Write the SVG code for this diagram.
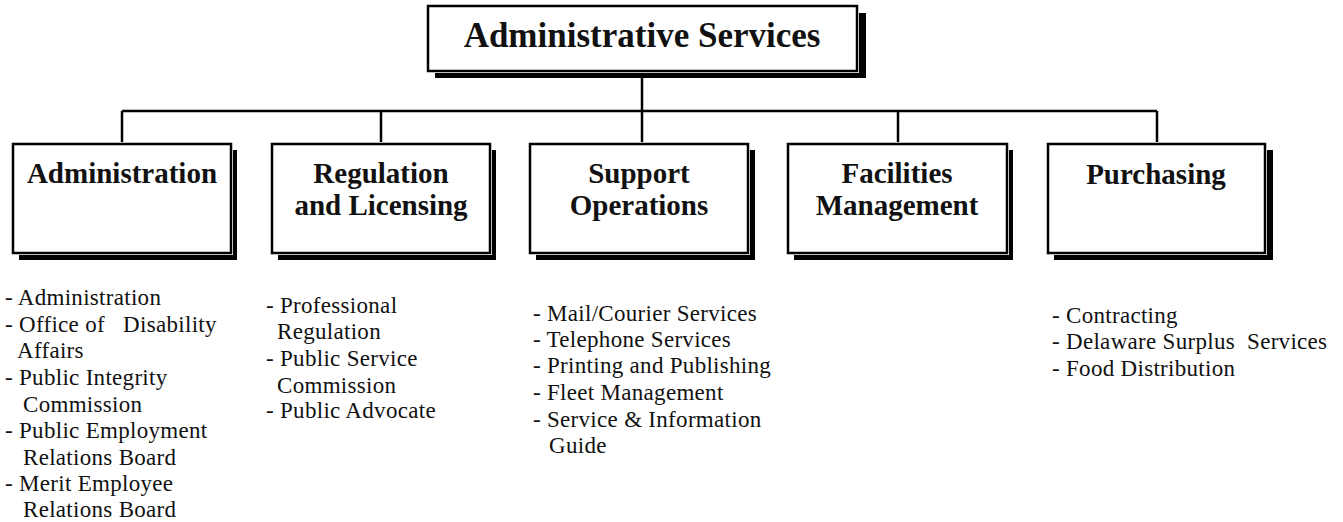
<svg xmlns="http://www.w3.org/2000/svg" width="1343" height="522" viewBox="0 0 1343 522">
  <style>
    .shadow { fill: #000; }
    .gap { fill: #fff; }
    .box { fill: #fff; stroke: #000; stroke-width: 2.5; }
    .head { font-family: "Liberation Serif", "Times New Roman", serif; font-weight: bold; font-size: 29px; fill: #111; text-anchor: middle; }
    .title { font-size: 35px; }
    .list { font-family: "Liberation Serif", "Times New Roman", serif; font-size: 23px; letter-spacing: 0.3px; fill: #111; white-space: pre; }
    .wire { stroke: #000; stroke-width: 2.5; fill: none; }
  </style>

  <!-- connectors -->
  <g id="connectors">
    <line class="wire" x1="642" y1="71" x2="642" y2="111"/>
    <line class="wire" x1="122" y1="111" x2="1157" y2="111"/>
    <line class="wire" x1="122" y1="111" x2="122" y2="144"/>
    <line class="wire" x1="381" y1="111" x2="381" y2="144"/>
    <line class="wire" x1="642" y1="111" x2="642" y2="144"/>
    <line class="wire" x1="898" y1="111" x2="898" y2="144"/>
    <line class="wire" x1="1157" y1="111" x2="1157" y2="144"/>
  </g>

  <!-- top node -->
  <g id="administrative-services">
    <rect class="shadow" x="435" y="13" width="431" height="65"/>
    <rect class="gap" x="426" y="4" width="433" height="69"/>
    <rect class="box" x="428" y="6" width="429" height="65"/>
    <text class="head title" x="642" y="47">Administrative Services</text>
  </g>

  <!-- division nodes -->
  <g id="administration">
    <rect class="shadow" x="19" y="150" width="218" height="110"/>
    <rect class="gap" x="11" y="142" width="222" height="113"/>
    <rect class="box" x="13" y="144" width="218" height="109"/>
    <text class="head" x="122" y="183">Administration</text>
  </g>

  <g id="regulation-licensing">
    <rect class="shadow" x="278" y="150" width="218" height="110"/>
    <rect class="gap" x="270" y="142" width="222" height="113"/>
    <rect class="box" x="272" y="144" width="218" height="109"/>
    <text class="head" x="381" y="183">Regulation</text>
    <text class="head" x="381" y="215">and Licensing</text>
  </g>

  <g id="support-operations">
    <rect class="shadow" x="536" y="150" width="219" height="110"/>
    <rect class="gap" x="528" y="142" width="222" height="113"/>
    <rect class="box" x="530" y="144" width="218" height="109"/>
    <text class="head" x="639" y="183">Support</text>
    <text class="head" x="639" y="215">Operations</text>
  </g>

  <g id="facilities-management">
    <rect class="shadow" x="794" y="150" width="219" height="110"/>
    <rect class="gap" x="786" y="142" width="223" height="113"/>
    <rect class="box" x="788" y="144" width="219" height="109"/>
    <text class="head" x="897" y="183">Facilities</text>
    <text class="head" x="897" y="215">Management</text>
  </g>

  <g id="purchasing">
    <rect class="shadow" x="1054" y="150" width="219" height="110"/>
    <rect class="gap" x="1046" y="142" width="221" height="113"/>
    <rect class="box" x="1048" y="144" width="217" height="109"/>
    <text class="head" x="1156" y="184">Purchasing</text>
  </g>

  <!-- unit lists -->
  <g id="administration-units">
    <text class="list" x="5" y="305">- Administration</text>
    <text class="list" x="5" y="332">- Office of   Disability</text>
    <text class="list" x="17" y="358">Affairs</text>
    <text class="list" x="5" y="385">- Public Integrity</text>
    <text class="list" x="23" y="412">Commission</text>
    <text class="list" x="5" y="438">- Public Employment</text>
    <text class="list" x="23" y="465">Relations Board</text>
    <text class="list" x="5" y="491">- Merit Employee</text>
    <text class="list" x="23" y="517">Relations Board</text>
  </g>

  <g id="regulation-units">
    <text class="list" x="266" y="313">- Professional</text>
    <text class="list" x="277" y="339">Regulation</text>
    <text class="list" x="266" y="366">- Public Service</text>
    <text class="list" x="277" y="393">Commission</text>
    <text class="list" x="266" y="418">- Public Advocate</text>
  </g>

  <g id="support-units">
    <text class="list" x="533" y="321">- Mail/Courier Services</text>
    <text class="list" x="533" y="347">- Telephone Services</text>
    <text class="list" x="533" y="373">- Printing and Publishing</text>
    <text class="list" x="533" y="400">- Fleet Management</text>
    <text class="list" x="533" y="427">- Service &amp; Information</text>
    <text class="list" x="549" y="453">Guide</text>
  </g>

  <g id="purchasing-units">
    <text class="list" x="1052" y="323">- Contracting</text>
    <text class="list" x="1052" y="349">- Delaware Surplus  Services</text>
    <text class="list" x="1052" y="376">- Food Distribution</text>
  </g>
</svg>
